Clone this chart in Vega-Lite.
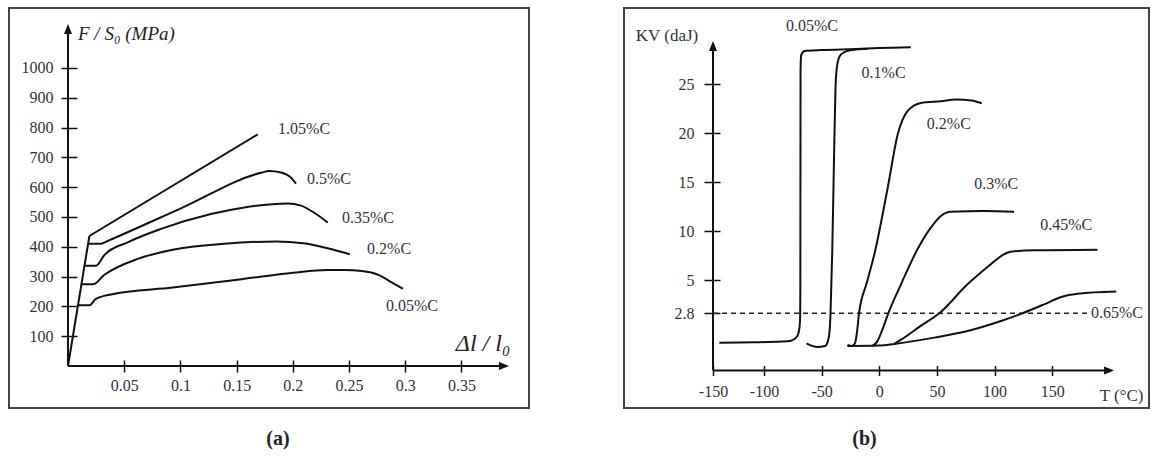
{
  "$schema": "https://vega.github.io/schema/vega-lite/v6.json",
  "background": "white",
  "padding": {"left": 8, "top": 7, "right": 0, "bottom": 0},
  "autosize": {"type": "pad"},
  "config": {
    "view": {"stroke": "#444", "strokeWidth": 2},
    "font": "Liberation Serif"
  },
  "datasets": {
    "axesA": [
      {"x": 0, "y": 0, "x2": 0.3835, "y2": 0},
      {"x": 0, "y": 0, "x2": 0, "y2": 1114}
    ],
    "arrowsA": [
      {"x": 0.3923, "y": 0, "dir": "right"},
      {"x": 0, "y": 1147.7, "dir": "up"}
    ],
    "tensile": [
      {"steel": "elastic", "x": 0, "y": 0},
      {"steel": "elastic", "x": 0.019, "y": 436},
      {"steel": "1.05%C", "x": 0.019, "y": 436},
      {"steel": "1.05%C", "x": 0.1688, "y": 777},
      {"steel": "0.5%C", "x": 0.0179, "y": 410},
      {"steel": "0.5%C", "x": 0.0294, "y": 410},
      {"steel": "0.5%C", "x": 0.035, "y": 419},
      {"steel": "0.5%C", "x": 0.1, "y": 528},
      {"steel": "0.5%C", "x": 0.1717, "y": 648},
      {"steel": "0.5%C", "x": 0.179, "y": 654},
      {"steel": "0.5%C", "x": 0.1895, "y": 649},
      {"steel": "0.5%C", "x": 0.1984, "y": 632},
      {"steel": "0.5%C", "x": 0.2028, "y": 612},
      {"steel": "0.35%C", "x": 0.0146, "y": 336},
      {"steel": "0.35%C", "x": 0.0249, "y": 336},
      {"steel": "0.35%C", "x": 0.0323, "y": 372},
      {"steel": "0.35%C", "x": 0.0531, "y": 415},
      {"steel": "0.35%C", "x": 0.0827, "y": 460},
      {"steel": "0.35%C", "x": 0.1272, "y": 510},
      {"steel": "0.35%C", "x": 0.1569, "y": 532},
      {"steel": "0.35%C", "x": 0.1955, "y": 545},
      {"steel": "0.35%C", "x": 0.2073, "y": 538},
      {"steel": "0.35%C", "x": 0.2191, "y": 514},
      {"steel": "0.35%C", "x": 0.2311, "y": 481},
      {"steel": "0.2%C", "x": 0.012, "y": 274},
      {"steel": "0.2%C", "x": 0.0222, "y": 274},
      {"steel": "0.2%C", "x": 0.0321, "y": 305},
      {"steel": "0.2%C", "x": 0.0627, "y": 360},
      {"steel": "0.2%C", "x": 0.0932, "y": 390},
      {"steel": "0.2%C", "x": 0.1391, "y": 410},
      {"steel": "0.2%C", "x": 0.185, "y": 418},
      {"steel": "0.2%C", "x": 0.2094, "y": 412},
      {"steel": "0.2%C", "x": 0.2309, "y": 395},
      {"steel": "0.2%C", "x": 0.2507, "y": 375},
      {"steel": "0.05%C", "x": 0.0089, "y": 204},
      {"steel": "0.05%C", "x": 0.0191, "y": 204},
      {"steel": "0.05%C", "x": 0.0245, "y": 224},
      {"steel": "0.05%C", "x": 0.0383, "y": 240},
      {"steel": "0.05%C", "x": 0.0932, "y": 263},
      {"steel": "0.05%C", "x": 0.1544, "y": 291},
      {"steel": "0.05%C", "x": 0.2003, "y": 313},
      {"steel": "0.05%C", "x": 0.2309, "y": 322},
      {"steel": "0.05%C", "x": 0.2458, "y": 322},
      {"steel": "0.05%C", "x": 0.2614, "y": 319},
      {"steel": "0.05%C", "x": 0.2767, "y": 305},
      {"steel": "0.05%C", "x": 0.2859, "y": 285},
      {"steel": "0.05%C", "x": 0.2978, "y": 259}
    ],
    "tensileLabels": [
      {"label": "1.05%C", "x": 0.21, "y": 795},
      {"label": "0.5%C", "x": 0.2322, "y": 627},
      {"label": "0.35%C", "x": 0.2669, "y": 497},
      {"label": "0.2%C", "x": 0.2856, "y": 393},
      {"label": "0.05%C", "x": 0.306, "y": 201}
    ],
    "titleYA": [{"label": "F / S₀ (MPa)", "x": 0.0089, "y": 1114}],
    "titleXA": [{"label": "Δl / l₀", "x": 0.345, "y": 74}],
    "axesB": [
      {"x": -150, "y": 0, "x2": 194.9, "y2": 0},
      {"x": -150, "y": 0, "x2": -150, "y2": 28.4}
    ],
    "arrowsB": [
      {"x": 203.6, "y": 0, "dir": "right"},
      {"x": -150, "y": 29.42, "dir": "up"}
    ],
    "dashB": [{"x": -150, "y": 2.8, "x2": 183.6, "y2": 2.8}],
    "impact": [
      {"steel": "0.05%C", "x": -143.8, "y": 1.36},
      {"steel": "0.05%C", "x": -110, "y": 1.38},
      {"steel": "0.05%C", "x": -85, "y": 1.42},
      {"steel": "0.05%C", "x": -76.6, "y": 1.46},
      {"steel": "0.05%C", "x": -72, "y": 1.62},
      {"steel": "0.05%C", "x": -70, "y": 1.85},
      {"steel": "0.05%C", "x": -68.8, "y": 2.4},
      {"steel": "0.05%C", "x": -68.5, "y": 4},
      {"steel": "0.05%C", "x": -68.4, "y": 15},
      {"steel": "0.05%C", "x": -68.3, "y": 26.5},
      {"steel": "0.05%C", "x": -67.7, "y": 28.0},
      {"steel": "0.05%C", "x": -65, "y": 28.4},
      {"steel": "0.05%C", "x": -50, "y": 28.5},
      {"steel": "0.05%C", "x": -20, "y": 28.6},
      {"steel": "0.05%C", "x": 0, "y": 28.7},
      {"steel": "0.05%C", "x": 27.3, "y": 28.78},
      {"steel": "0.1%C", "x": -63.1, "y": 1.33},
      {"steel": "0.1%C", "x": -58, "y": 1.2},
      {"steel": "0.1%C", "x": -54, "y": 1.15},
      {"steel": "0.1%C", "x": -47, "y": 1.2},
      {"steel": "0.1%C", "x": -44.5, "y": 1.45},
      {"steel": "0.1%C", "x": -43, "y": 2.0},
      {"steel": "0.1%C", "x": -42.3, "y": 2.8},
      {"steel": "0.1%C", "x": -40.8, "y": 8},
      {"steel": "0.1%C", "x": -39.5, "y": 16},
      {"steel": "0.1%C", "x": -38, "y": 24.6},
      {"steel": "0.1%C", "x": -36.5, "y": 27.0},
      {"steel": "0.1%C", "x": -33.6, "y": 28.0},
      {"steel": "0.1%C", "x": -28, "y": 28.4},
      {"steel": "0.1%C", "x": -20, "y": 28.55},
      {"steel": "0.1%C", "x": -10, "y": 28.62},
      {"steel": "0.2%C", "x": -27.6, "y": 1.25},
      {"steel": "0.2%C", "x": -24, "y": 1.2},
      {"steel": "0.2%C", "x": -21, "y": 1.35},
      {"steel": "0.2%C", "x": -19.3, "y": 1.9},
      {"steel": "0.2%C", "x": -17.6, "y": 2.8},
      {"steel": "0.2%C", "x": -11, "y": 4.8},
      {"steel": "0.2%C", "x": -4.3, "y": 7.65},
      {"steel": "0.2%C", "x": 7.3, "y": 14.45},
      {"steel": "0.2%C", "x": 16, "y": 19.9},
      {"steel": "0.2%C", "x": 24.6, "y": 22.28},
      {"steel": "0.2%C", "x": 36.2, "y": 23.1},
      {"steel": "0.2%C", "x": 53.5, "y": 23.27},
      {"steel": "0.2%C", "x": 66.4, "y": 23.44},
      {"steel": "0.2%C", "x": 80, "y": 23.35},
      {"steel": "0.2%C", "x": 88.9, "y": 23.05},
      {"steel": "0.3%C", "x": -6, "y": 1.2},
      {"steel": "0.3%C", "x": -2, "y": 1.4},
      {"steel": "0.3%C", "x": 2, "y": 1.9},
      {"steel": "0.3%C", "x": 7.8, "y": 2.8},
      {"steel": "0.3%C", "x": 18.8, "y": 4.73},
      {"steel": "0.3%C", "x": 33.1, "y": 8.16},
      {"steel": "0.3%C", "x": 44.7, "y": 10.37},
      {"steel": "0.3%C", "x": 53.4, "y": 11.56},
      {"steel": "0.3%C", "x": 62, "y": 12.0},
      {"steel": "0.3%C", "x": 90.9, "y": 12.07},
      {"steel": "0.3%C", "x": 116.9, "y": 12.0},
      {"steel": "0.45%C", "x": 13, "y": 1.31},
      {"steel": "0.45%C", "x": 20, "y": 1.55},
      {"steel": "0.45%C", "x": 35, "y": 2.15},
      {"steel": "0.45%C", "x": 52, "y": 2.8},
      {"steel": "0.45%C", "x": 76.5, "y": 4.73},
      {"steel": "0.45%C", "x": 96.7, "y": 6.63},
      {"steel": "0.45%C", "x": 106.9, "y": 7.58},
      {"steel": "0.45%C", "x": 114.1, "y": 7.92},
      {"steel": "0.45%C", "x": 134.3, "y": 8.06},
      {"steel": "0.45%C", "x": 189.2, "y": 8.13},
      {"steel": "0.65%C", "x": -27.6, "y": 1.2},
      {"steel": "0.65%C", "x": 0, "y": 1.22},
      {"steel": "0.65%C", "x": 13, "y": 1.3},
      {"steel": "0.65%C", "x": 47.7, "y": 1.61},
      {"steel": "0.65%C", "x": 76.5, "y": 1.93},
      {"steel": "0.65%C", "x": 105.5, "y": 2.42},
      {"steel": "0.65%C", "x": 124.2, "y": 2.8},
      {"steel": "0.65%C", "x": 143, "y": 3.4},
      {"steel": "0.65%C", "x": 157.7, "y": 3.89},
      {"steel": "0.65%C", "x": 172.2, "y": 4.11},
      {"steel": "0.65%C", "x": 205.5, "y": 4.25}
    ],
    "impactLabels": [
      {"label": "0.05%C", "x": -58.4, "y": 30.95},
      {"label": "0.1%C", "x": 3.7, "y": 26.18},
      {"label": "0.2%C", "x": 60.3, "y": 20.98},
      {"label": "0.3%C", "x": 101.4, "y": 14.86},
      {"label": "0.45%C", "x": 162.1, "y": 10.64}
    ],
    "impactLabelLeft": [{"label": "0.65%C", "x": 183.6, "y": 2.8}],
    "titlesB": [
      {"label": "KV (daJ)", "x": -195, "y": 29.93},
      {"label": "T (°C)", "x": 210.1, "y": -1.25}
    ]
  },
  "spacing": 95,
  "bounds": "flush",
  "hconcat": [
    {
      "width": 520,
      "height": 400,
      "title": {"text": "(a)", "orient": "bottom", "anchor": "middle", "offset": 21, "dx": 9, "fontSize": 20, "fontWeight": "bold", "font": "Liberation Serif", "color": "#222"},
      "encoding": {
        "x": {
          "field": "x", "type": "quantitative",
          "scale": {"domain": [-0.0525, 0.4101], "nice": false, "zero": false},
          "axis": {"values": [0.05, 0.1, 0.15, 0.2, 0.25, 0.3, 0.35], "labelExpr": "toString(datum.value)", "domain": false, "grid": false, "title": null, "offset": -48, "tickSize": 12, "tickWidth": 1.5, "tickColor": "#111", "labelFont": "Liberation Serif", "labelFontSize": 16, "labelColor": "#333", "labelPadding": 5, "labelFlush": false, "labelOverlap": false}
        },
        "y": {
          "field": "y", "type": "quantitative",
          "scale": {"domain": [-141, 1201], "nice": false, "zero": false},
          "axis": {"values": [100, 200, 300, 400, 500, 600, 700, 800, 900, 1000], "labelExpr": "toString(datum.value)", "domain": false, "grid": false, "title": null, "offset": -68, "tickSize": 16, "tickWidth": 1.5, "tickColor": "#111", "labelFont": "Liberation Serif", "labelFontSize": 16, "labelColor": "#333", "labelPadding": 8, "labelFlush": false, "labelOverlap": false}
        }
      },
      "layer": [
        {"data": {"name": "axesA"}, "mark": {"type": "rule", "strokeWidth": 2, "color": "#111"}, "encoding": {"x2": {"field": "x2"}, "y2": {"field": "y2"}}},
        {"data": {"name": "arrowsA"}, "mark": {"type": "point", "filled": true, "opacity": 1, "color": "#111", "size": 25, "strokeWidth": 0}, "encoding": {"shape": {"field": "dir", "type": "nominal", "scale": {"domain": ["right", "up"], "range": ["M0,0L-4,-1.6L-4,1.6Z", "M0,0L-1.6,4L1.6,4Z"]}, "legend": null}}},
        {"data": {"name": "tensile"}, "mark": {"type": "line", "strokeWidth": 2, "color": "#111", "interpolate": "monotone"}, "encoding": {"detail": {"field": "steel", "type": "nominal"}}},
        {"data": {"name": "tensileLabels"}, "mark": {"type": "text", "fontSize": 16, "color": "#333", "font": "Liberation Serif"}, "encoding": {"text": {"field": "label"}}},
        {"data": {"name": "titleYA"}, "mark": {"type": "text", "align": "left", "fontSize": 19, "fontStyle": "italic", "color": "#222", "font": "Liberation Serif"}, "encoding": {"text": {"field": "label"}}},
        {"data": {"name": "titleXA"}, "mark": {"type": "text", "align": "left", "fontSize": 24, "fontStyle": "italic", "color": "#222", "font": "Liberation Serif"}, "encoding": {"text": {"field": "label"}}}
      ]
    },
    {
      "width": 525,
      "height": 400,
      "title": {"text": "(b)", "orient": "bottom", "anchor": "middle", "offset": 21, "dx": -22, "fontSize": 20, "fontWeight": "bold", "font": "Liberation Serif", "color": "#222"},
      "encoding": {
        "x": {
          "field": "x", "type": "quantitative",
          "scale": {"domain": [-237, -150, -100, 233.9], "range": [0, 89, 140, 525], "nice": false, "zero": false},
          "axis": {"values": [-150, -100, -50, 0, 50, 100, 150], "labelExpr": "toString(datum.value)", "domain": false, "grid": false, "title": null, "offset": -42.5, "tickSize": 10, "tickWidth": 1.5, "tickColor": "#111", "labelFont": "Liberation Serif", "labelFontSize": 16, "labelColor": "#333", "labelPadding": 8, "labelFlush": false, "labelOverlap": false}
        },
        "y": {
          "field": "y", "type": "quantitative",
          "scale": {"domain": [-1.84, 0, 2.8, 5, 32.79], "range": [400, 362.5, 305.3, 272.3, 0], "nice": false, "zero": false},
          "axis": {"values": [2.8, 5, 10, 15, 20, 25], "labelExpr": "toString(datum.value)", "domain": false, "grid": false, "title": null, "offset": -96, "tickSize": 16, "tickWidth": 1.5, "tickColor": "#111", "labelFont": "Liberation Serif", "labelFontSize": 16, "labelColor": "#333", "labelPadding": 10, "labelFlush": false, "labelOverlap": false}
        }
      },
      "layer": [
        {"data": {"name": "axesB"}, "mark": {"type": "rule", "strokeWidth": 2, "color": "#111"}, "encoding": {"x2": {"field": "x2"}, "y2": {"field": "y2"}}},
        {"data": {"name": "dashB"}, "mark": {"type": "rule", "strokeWidth": 1.5, "color": "#222", "strokeDash": [5, 4]}, "encoding": {"x2": {"field": "x2"}, "y2": {"field": "y2"}}},
        {"data": {"name": "arrowsB"}, "mark": {"type": "point", "filled": true, "opacity": 1, "color": "#111", "size": 25, "strokeWidth": 0}, "encoding": {"shape": {"field": "dir", "type": "nominal", "scale": {"domain": ["right", "up"], "range": ["M0,0L-4,-1.6L-4,1.6Z", "M0,0L-1.6,4L1.6,4Z"]}, "legend": null}}},
        {"data": {"name": "impact"}, "mark": {"type": "line", "strokeWidth": 2, "color": "#111", "interpolate": "monotone"}, "encoding": {"detail": {"field": "steel", "type": "nominal"}}},
        {"data": {"name": "impactLabels"}, "mark": {"type": "text", "fontSize": 16, "color": "#333", "font": "Liberation Serif"}, "encoding": {"text": {"field": "label"}}},
        {"data": {"name": "impactLabelLeft"}, "mark": {"type": "text", "align": "left", "fontSize": 16, "color": "#333", "font": "Liberation Serif"}, "encoding": {"text": {"field": "label"}}},
        {"data": {"name": "titlesB"}, "mark": {"type": "text", "fontSize": 17, "color": "#333", "font": "Liberation Serif"}, "encoding": {"text": {"field": "label"}}}
      ]
    }
  ]
}
